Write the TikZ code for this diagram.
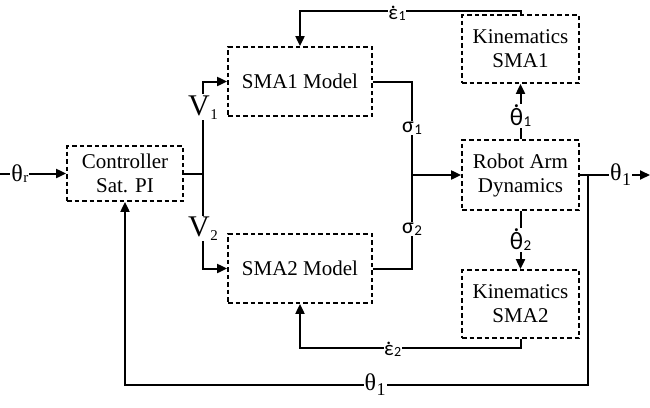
\documentclass[tikz,border=0pt]{standalone}
\usepackage{fontspec}
\setmainfont{Liberation Serif}
\newfontfamily\lblSans{Carlito}
\usetikzlibrary{arrows.meta,positioning}

% signal labels: base letter, index size, index drop, index
\newcommand{\idxOf}[4]{#1\kern0.5pt\raisebox{-#3}{\fontsize{#2}{#2}\selectfont #4}}
\newcommand{\dotOver}[1]{{\setbox0\hbox{#1}\rlap{\hbox to \wd0{\hss\raisebox{\dimexpr\ht0+0.8pt\relax}{.}\hss}}\box0}}

\tikzset{
  blockBox/.style={rectangle, draw, line width=1.8pt, dash pattern=on 4.5pt off 3pt,
    align=center, inner sep=2pt, font=\fontsize{21}{24}\selectfont},
  sigLine/.style={line width=2pt},
  sigArrow/.style={sigLine, -{Triangle[length=10pt,width=9pt]}},
  sigLabel/.style={fill=white, inner sep=1pt},
  serifLbl/.style={sigLabel, font=\fontsize{24}{26}\selectfont},
  sansLbl/.style={sigLabel, font=\fontsize{22}{24}\lblSans}
}

\begin{document}
\begin{tikzpicture}[x=1pt,y=-1pt]
  \useasboundingbox (0,0) rectangle (650,407);

  % blocks
  \node[blockBox, minimum width=116pt, minimum height=55pt] (ctrl) at (125,173.5)
    {Controller\\Sat. PI};
  \node[blockBox, minimum width=144pt, minimum height=69pt] (sma1) at (300,81.5)
    {SMA1 Model};
  \node[blockBox, minimum width=144pt, minimum height=69pt] (sma2) at (300,268.5)
    {SMA2 Model};
  \node[blockBox, minimum width=117pt, minimum height=70pt] (robot) at (520.5,175)
    {Robot Arm\\Dynamics};
  \node[blockBox, minimum width=117pt, minimum height=68pt] (kin1) at (520.5,49)
    {Kinematics\\SMA1};
  \node[blockBox, minimum width=117pt, minimum height=68pt] (kin2) at (520.5,304)
    {Kinematics\\SMA2};

  % helper points
  \coordinate (inLeft) at (0,173.5);
  \coordinate (outRight) at (650,175);
  \coordinate (splitV) at (203,173.5);
  \coordinate (sumJ) at (412,175);
  \coordinate (fbSplit) at (588,175);
  \coordinate (e1Level) at (0,11);
  \coordinate (e2Level) at (0,348);
  \coordinate (fbLevel) at (0,385);

  % forward path
  \draw[sigArrow] (inLeft) -- node[serifLbl, pos=0.3] {\idxOf{θ}{15}{1pt}{r}} (ctrl.west);
  \draw[sigLine] (ctrl.east) -- (splitV);
  \draw[sigArrow] (splitV) |- node[serifLbl, pos=0.36, font=\fontsize{30}{32}\selectfont]
    {\idxOf{V}{15}{4pt}{1}} (sma1.west);
  \draw[sigArrow] (splitV) |- node[serifLbl, pos=0.29, font=\fontsize{30}{32}\selectfont]
    {\idxOf{V}{15}{4pt}{2}} (sma2.west);
  \draw[sigLine] (sma1.east) -| node[sansLbl, pos=0.75] {\idxOf{σ}{15}{2pt}{1}} (sumJ);
  \draw[sigLine] (sma2.east) -| node[sansLbl, pos=0.71] {\idxOf{σ}{15}{2pt}{2}} (sumJ);
  \draw[sigArrow] (sumJ) -- (robot.west);
  \draw[sigArrow] (robot.east) -- node[serifLbl, pos=0.58] {\idxOf{θ}{18}{5pt}{1}} (outRight);

  % kinematics loops
  \draw[sigArrow] (robot.north) -- node[sansLbl, pos=0.42, font=\fontsize{25}{27}\lblSans]
    {\idxOf{\dotOver{θ}}{15}{1pt}{1}} (kin1.south);
  \draw[sigArrow] (robot.south) -- node[sansLbl, pos=0.5, font=\fontsize{25}{27}\lblSans]
    {\idxOf{\dotOver{θ}}{15}{1pt}{2}} (kin2.north);
  \draw[sigArrow] (kin1.north) -- (kin1.north |- e1Level) -| node[sansLbl, pos=0.28,
    font=\fontsize{21}{23}\lblSans, inner sep=0.5pt, yshift=-2.5pt]
    {\idxOf{\dotOver{ε}}{14}{1pt}{1}} (sma1.north);
  \draw[sigArrow] (kin2.south) -- (kin2.south |- e2Level) -| node[sansLbl, pos=0.29,
    font=\fontsize{21}{23}\lblSans, inner sep=0.5pt, yshift=-1pt]
    {\idxOf{\dotOver{ε}}{14}{1pt}{2}} (sma2.south);

  % angle feedback
  \draw[sigArrow] (fbSplit) -- (fbSplit |- fbLevel) -| node[serifLbl, pos=0.23]
    {\idxOf{θ}{18}{5pt}{1}} (ctrl.south);
\end{tikzpicture}
\end{document}
